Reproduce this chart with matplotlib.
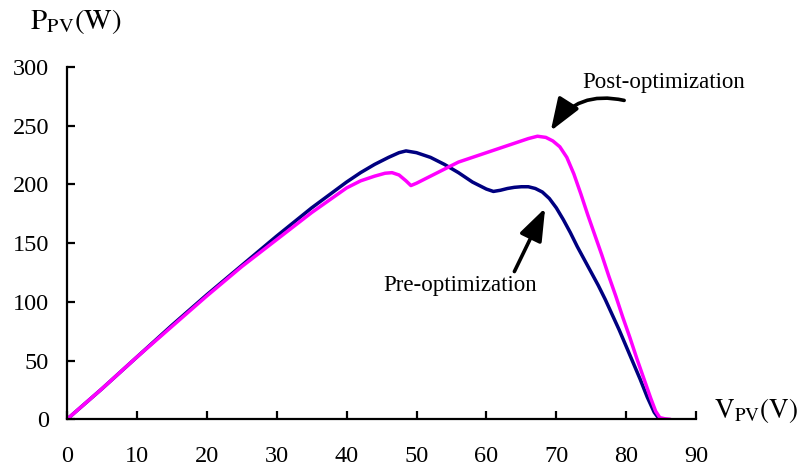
# P-V curve of the PV string before and after optimization

import matplotlib.pyplot as plt
import numpy as np

#### DATA ####

# Pre-optimization (V, W)
v_pre = [0, 5, 10, 15, 20, 25, 30, 35, 40, 42, 44, 46, 47.5, 48.5, 50, 52,
         54, 56, 58, 60, 61, 62, 63, 64, 65, 66, 67, 68, 69, 70, 71, 72, 73,
         74, 75, 76, 77, 78, 79, 80, 81, 82, 83, 84, 84.5, 84.9]
p_pre = [0, 26, 53, 80, 106, 131, 156, 180, 202, 210, 217, 223, 227, 228.5,
         227, 223, 217, 210, 202, 196, 194, 195, 196.5, 197.5, 198, 198,
         196.5, 193.5, 188, 180, 170, 159, 147, 136, 125, 114, 102, 89, 76,
         62, 48, 34, 19, 6, 2, 0]

# Post-optimization (V, W)
v_post = [0, 5, 10, 15, 20, 25, 30, 35, 40, 42, 44, 45.5, 46.5, 47.5, 48.5,
          49.2, 50, 52, 54, 55, 56, 58, 60, 62, 64, 66, 67.3, 68.5, 69.5,
          70.5, 71.5, 72.5, 73.5, 74.5, 75.5, 76.5, 77.5, 78.5, 79.5, 80.5,
          81.5, 82.5, 83.5, 84.2, 84.8, 85.5, 86.3]
p_post = [0, 26, 53, 79, 105, 130, 153, 176, 197, 203, 207, 209.5, 210, 208,
          203, 199, 201, 207, 213, 216, 219, 223, 227, 231, 235, 239, 241,
          240, 237, 232, 223, 209, 192, 174, 157, 140, 122, 105, 87, 70, 52,
          35, 18, 7, 1.5, 0.5, 0]

xticks = np.arange(0, 91, 10)
yticks = np.arange(0, 301, 50)

#### PLOT ####

plt.rcParams['font.family'] = 'Liberation Serif'
plt.rcParams['mathtext.fontset'] = 'stix'

fig = plt.figure(figsize=(8.01, 4.68), dpi=100)
ax = fig.add_axes([0.0836, 0.104, 0.7855, 0.753])

ax.plot(v_pre, p_pre, c='#000080', lw=2.5, solid_capstyle='round')
ax.plot(v_post, p_post, c='#ff00ff', lw=2.5, solid_capstyle='round')

ax.set_xlim(0, 90)
ax.set_ylim(0, 300)
ax.set_xticks(xticks)
ax.set_yticks(yticks)

for side in ['top', 'right']:
    ax.spines[side].set_visible(False)
for side in ['left', 'bottom']:
    ax.spines[side].set_linewidth(1.6)

ax.tick_params(axis='both', direction='in', length=6, width=1.6, labelsize=17.5)
ax.tick_params(axis='x', pad=19)
ax.tick_params(axis='y', pad=13)

# axis titles
fig.text(0.038, 0.955, r'$\mathrm{P_{PV}(W)}$', fontsize=21, va='center', ha='left')
fig.text(0.892, 0.122, r'$\mathrm{V_{PV}(V)}$', fontsize=19.5, va='center', ha='left')

# curve labels with arrows
arrow = dict(arrowstyle='-|>,head_length=0.9,head_width=0.33', color='k',
             lw=2.6, mutation_scale=22, shrinkA=0, shrinkB=0)
ax.annotate('Post-optimization', xy=(85.4, 286.6), fontsize=16.5,
            ha='center', va='center', annotation_clip=False)
ax.annotate('', xy=(69.2, 245.5), xytext=(79.7, 271.5),
            arrowprops=dict(arrow, connectionstyle='arc3,rad=0.35'))
ax.annotate('Pre-optimization', xy=(56.3, 113.6), fontsize=16.5,
            ha='center', va='center')
ax.annotate('', xy=(68.4, 179.8), xytext=(64.0, 125.8),
            arrowprops=dict(arrow, connectionstyle='arc3,rad=0'))

plt.savefig('out.png', dpi=100)
